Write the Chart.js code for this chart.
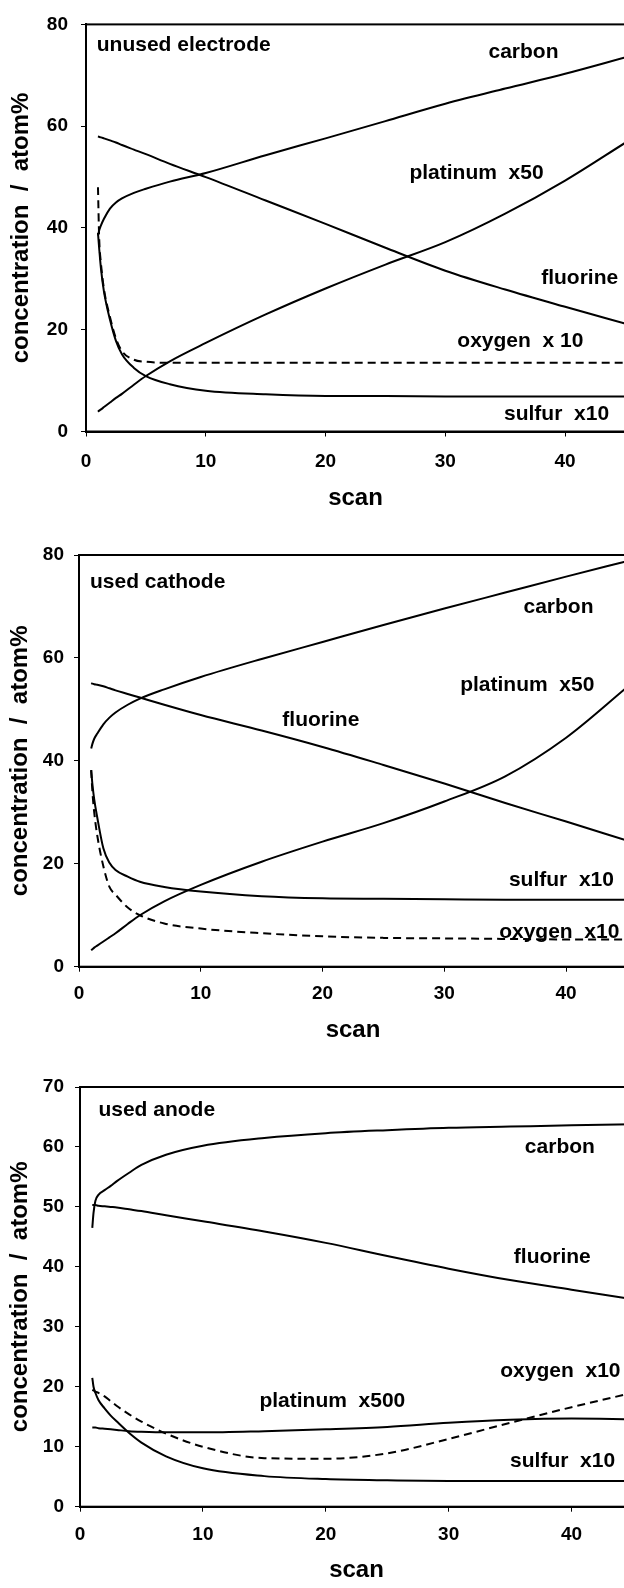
<!DOCTYPE html>
<html>
<head>
<meta charset="utf-8">
<script src="https://cdn.jsdelivr.net/npm/chart.js@4.4.1/dist/chart.umd.min.js"></script>
<style>
  html, body { margin: 0; padding: 0; background: #fff; overflow: hidden; }
  body { width: 624px; height: 1588px; position: relative; }
  .painel { position: absolute; left: 0; }
  canvas { display: block; }
</style>
</head>
<body>
<div class="painel" style="top:0px"><canvas id="g1" width="660" height="520"></canvas></div>
<div class="painel" style="top:530px"><canvas id="g2" width="660" height="520"></canvas></div>
<div class="painel" style="top:1060px"><canvas id="g3" width="660" height="528"></canvas></div>
<script>
// scan numbers (same for all curves)
const scans = [1, 1.1, 1.25, 1.5, 2, 2.5, 3, 4, 5, 7, 10, 15, 20, 25, 30, 35, 40, 45];

// unused electrode
const carbon1   = [38.5, 39.5, 40.5, 41.8, 43.8, 45.0, 45.8, 46.9, 47.7, 49.1, 50.8, 54.3, 57.6, 61.0, 64.4, 67.4, 70.3, 73.5];
const fluorine1 = [58.0, 57.9, 57.8, 57.6, 57.2, 56.8, 56.3, 55.4, 54.5, 52.6, 50.0, 45.4, 40.8, 36.1, 31.6, 27.9, 24.5, 21.2];
const platinum1 = [3.9, 4.1, 4.35, 4.8, 5.7, 6.6, 7.4, 9.2, 10.9, 13.8, 17.4, 23.0, 28.1, 32.8, 37.2, 42.8, 49.3, 56.7];
const oxygen1   = [48.0, 38.0, 33.0, 28.0, 22.5, 18.3, 15.8, 14.1, 13.7, 13.5, 13.5, 13.5, 13.5, 13.5, 13.5, 13.5, 13.5, 13.5];
const sulfur1   = [39.0, 36.0, 32.0, 27.5, 22.0, 17.8, 15.2, 12.5, 10.9, 9.3, 8.0, 7.3, 7.0, 7.0, 6.9, 6.9, 6.9, 6.9];

// used cathode
const carbon2   = [42.4, 43.3, 44.3, 45.3, 47.1, 48.4, 49.4, 50.9, 52.1, 53.9, 56.3, 59.8, 63.1, 66.4, 69.6, 72.7, 75.8, 78.8];
const fluorine2 = [55.1, 55.0, 54.9, 54.8, 54.5, 54.1, 53.7, 53.0, 52.3, 50.9, 48.9, 45.9, 42.7, 39.2, 35.6, 31.8, 28.2, 24.5];
const platinum2 = [3.2, 3.4, 3.7, 4.1, 4.9, 5.7, 6.5, 8.3, 10.0, 12.7, 15.9, 20.4, 24.3, 27.9, 32.1, 37.0, 44.5, 54.3];
const sulfur2   = [38.2, 35.5, 32.5, 29.0, 23.0, 20.2, 18.8, 17.5, 16.5, 15.5, 14.6, 13.7, 13.3, 13.2, 13.1, 13.0, 13.0, 13.0];
const oxygen2   = [38.2, 34.0, 30.0, 25.5, 19.5, 15.5, 14.0, 11.5, 10.0, 8.4, 7.4, 6.5, 5.9, 5.6, 5.5, 5.4, 5.3, 5.3];

// used anode
const carbon3   = [46.5, 49.0, 51.0, 52.0, 52.8, 53.5, 54.3, 55.7, 57.0, 58.7, 60.2, 61.5, 62.3, 62.8, 63.2, 63.4, 63.6, 63.8];
const fluorine3 = [50.3, 50.3, 50.3, 50.2, 50.1, 50.0, 49.9, 49.6, 49.3, 48.6, 47.6, 45.9, 44.0, 41.8, 39.7, 37.8, 36.2, 34.6];
const platinum3 = [13.2, 13.2, 13.2, 13.1, 13.0, 12.9, 12.8, 12.6, 12.5, 12.4, 12.4, 12.6, 12.9, 13.3, 14.0, 14.5, 14.7, 14.6];
const sulfur3   = [21.5, 20.0, 19.0, 17.8, 16.4, 15.2, 14.2, 12.3, 10.7, 8.4, 6.4, 5.1, 4.6, 4.4, 4.3, 4.3, 4.3, 4.3];
const oxygen3   = [19.5, 19.4, 19.2, 19.0, 18.4, 17.6, 16.8, 15.4, 14.2, 12.2, 10.0, 8.1, 8.0, 8.9, 11.3, 14.0, 16.6, 19.0];

// texts inside the plots (left edge, middle) in data units
const textos1 = ["unused electrode", "carbon", "platinum  x50", "fluorine", "oxygen  x 10", "sulfur  x10"];
const textoX1 = [0.9, 33.6, 27.0, 38.0, 31.0, 34.9];
const textoY1 = [75.7, 74.2, 50.5, 29.8, 17.4, 3.1];

const textos2 = ["used cathode", "carbon", "platinum  x50", "fluorine", "sulfur  x10", "oxygen  x10"];
const textoX2 = [0.9, 36.5, 31.3, 16.7, 35.3, 34.5];
const textoY2 = [74.5, 69.5, 54.4, 47.6, 16.5, 6.5];

const textos3 = ["used anode", "carbon", "fluorine", "oxygen  x10", "platinum  x500", "sulfur  x10"];
const textoX3 = [1.5, 36.2, 35.3, 34.2, 14.6, 35.0];
const textoY3 = [65.9, 59.7, 41.4, 22.3, 17.3, 7.4];

const fonte = '"Liberation Sans", Arial, sans-serif';
Chart.defaults.font.family = fonte;
Chart.defaults.color = '#000';

const textosPlugin = {
  id: 'textos',
  afterDatasetsDraw(chart, args, opts) {
    const ctx = chart.ctx;
    const x = chart.scales.x;
    const y = chart.scales.y;
    ctx.save();
    ctx.font = 'bold 21px ' + fonte;
    ctx.fillStyle = '#000';
    ctx.textBaseline = 'middle';
    ctx.textAlign = 'left';
    opts.textos.forEach((t, i) => {
      ctx.fillText(t, x.getPixelForValue(opts.xs[i]), y.getPixelForValue(opts.ys[i]) - 1.5);
    });
    // moldura
    const a = chart.chartArea;
    ctx.lineWidth = 2;
    ctx.strokeStyle = '#000';
    ctx.strokeRect(a.left, a.top, a.right - a.left, a.bottom - a.top);
    ctx.restore();
  }
};

function linha(valores, tracejado) {
  return {
    data: scans.map((s, i) => ({ x: s, y: valores[i] })),
    borderColor: '#000',
    borderWidth: 2,
    borderDash: tracejado ? [8, 5] : [],
    pointRadius: 0,
    fill: false,
    cubicInterpolationMode: 'monotone'
  };
}

function painel(id, series, yMax, yStep, txt, lay) {
  new Chart(document.getElementById(id), {
    type: 'line',
    data: { datasets: series },
    plugins: [textosPlugin],
    options: {
      responsive: false,
      animation: false,
      layout: { autoPadding: false, padding: { top: lay.top, right: lay.right, left: 0, bottom: 0 } },
      plugins: {
        legend: { display: false },
        tooltip: { enabled: false },
        textos: txt
      },
      scales: {
        x: {
          type: 'linear', min: 0, max: 45,
          afterBuildTicks: s => { s.ticks = s.ticks.filter(t => t.value % 10 === 0); },
          afterFit: s => { s.height = lay.xh; },
          ticks: { stepSize: 10, padding: lay.xpad, font: { size: 19, weight: 'bold' }, color: '#000' },
          grid: { drawOnChartArea: false, drawTicks: true, tickLength: 5, color: '#000', lineWidth: 1 },
          border: { color: '#000', width: 2 },
          title: { display: true, text: 'scan', color: '#000', font: { size: 24, weight: 'bold' }, padding: { top: 0, bottom: lay.spad } }
        },
        y: {
          min: 0, max: yMax,
          afterFit: s => { s.width = lay.yw; },
          ticks: { stepSize: yStep, padding: lay.ypad, font: { size: 19, weight: 'bold' }, color: '#000' },
          grid: { drawOnChartArea: false, drawTicks: true, tickLength: 5, color: '#000', lineWidth: 1 },
          border: { color: '#000', width: 2 },
          title: { display: true, text: 'concentration  /  atom%', color: '#000', font: { size: 24, weight: 'bold' }, padding: { top: lay.tpad, bottom: 0 } }
        }
      }
    }
  });
}

painel('g1',
  [linha(carbon1), linha(fluorine1), linha(platinum1), linha(sulfur1), linha(oxygen1, true)],
  80, 20,
  { textos: textos1, xs: textoX1, ys: textoY1 },
  { top: 20, right: 660 - 625, xh: 88.5, yw: 86, xpad: 14, spad: 7.6, ypad: 13, tpad: 6.6 });

painel('g2',
  [linha(carbon2), linha(fluorine2), linha(platinum2), linha(sulfur2), linha(oxygen2, true)],
  80, 20,
  { textos: textos2, xs: textoX2, ys: textoY2 },
  { top: 25, right: 660 - 627, xh: 83.3, yw: 79, xpad: 11, spad: 5.6, ypad: 10, tpad: 5.6 });

painel('g3',
  [linha(carbon3), linha(fluorine3), linha(platinum3), linha(sulfur3), linha(oxygen3, true)],
  70, 10,
  { textos: textos3, xs: textoX3, ys: textoY3 },
  { top: 27, right: 660 - 633, xh: 81.3, yw: 80, xpad: 12, spad: 3.6, ypad: 11, tpad: 5.6 });
</script>
</body>
</html>
